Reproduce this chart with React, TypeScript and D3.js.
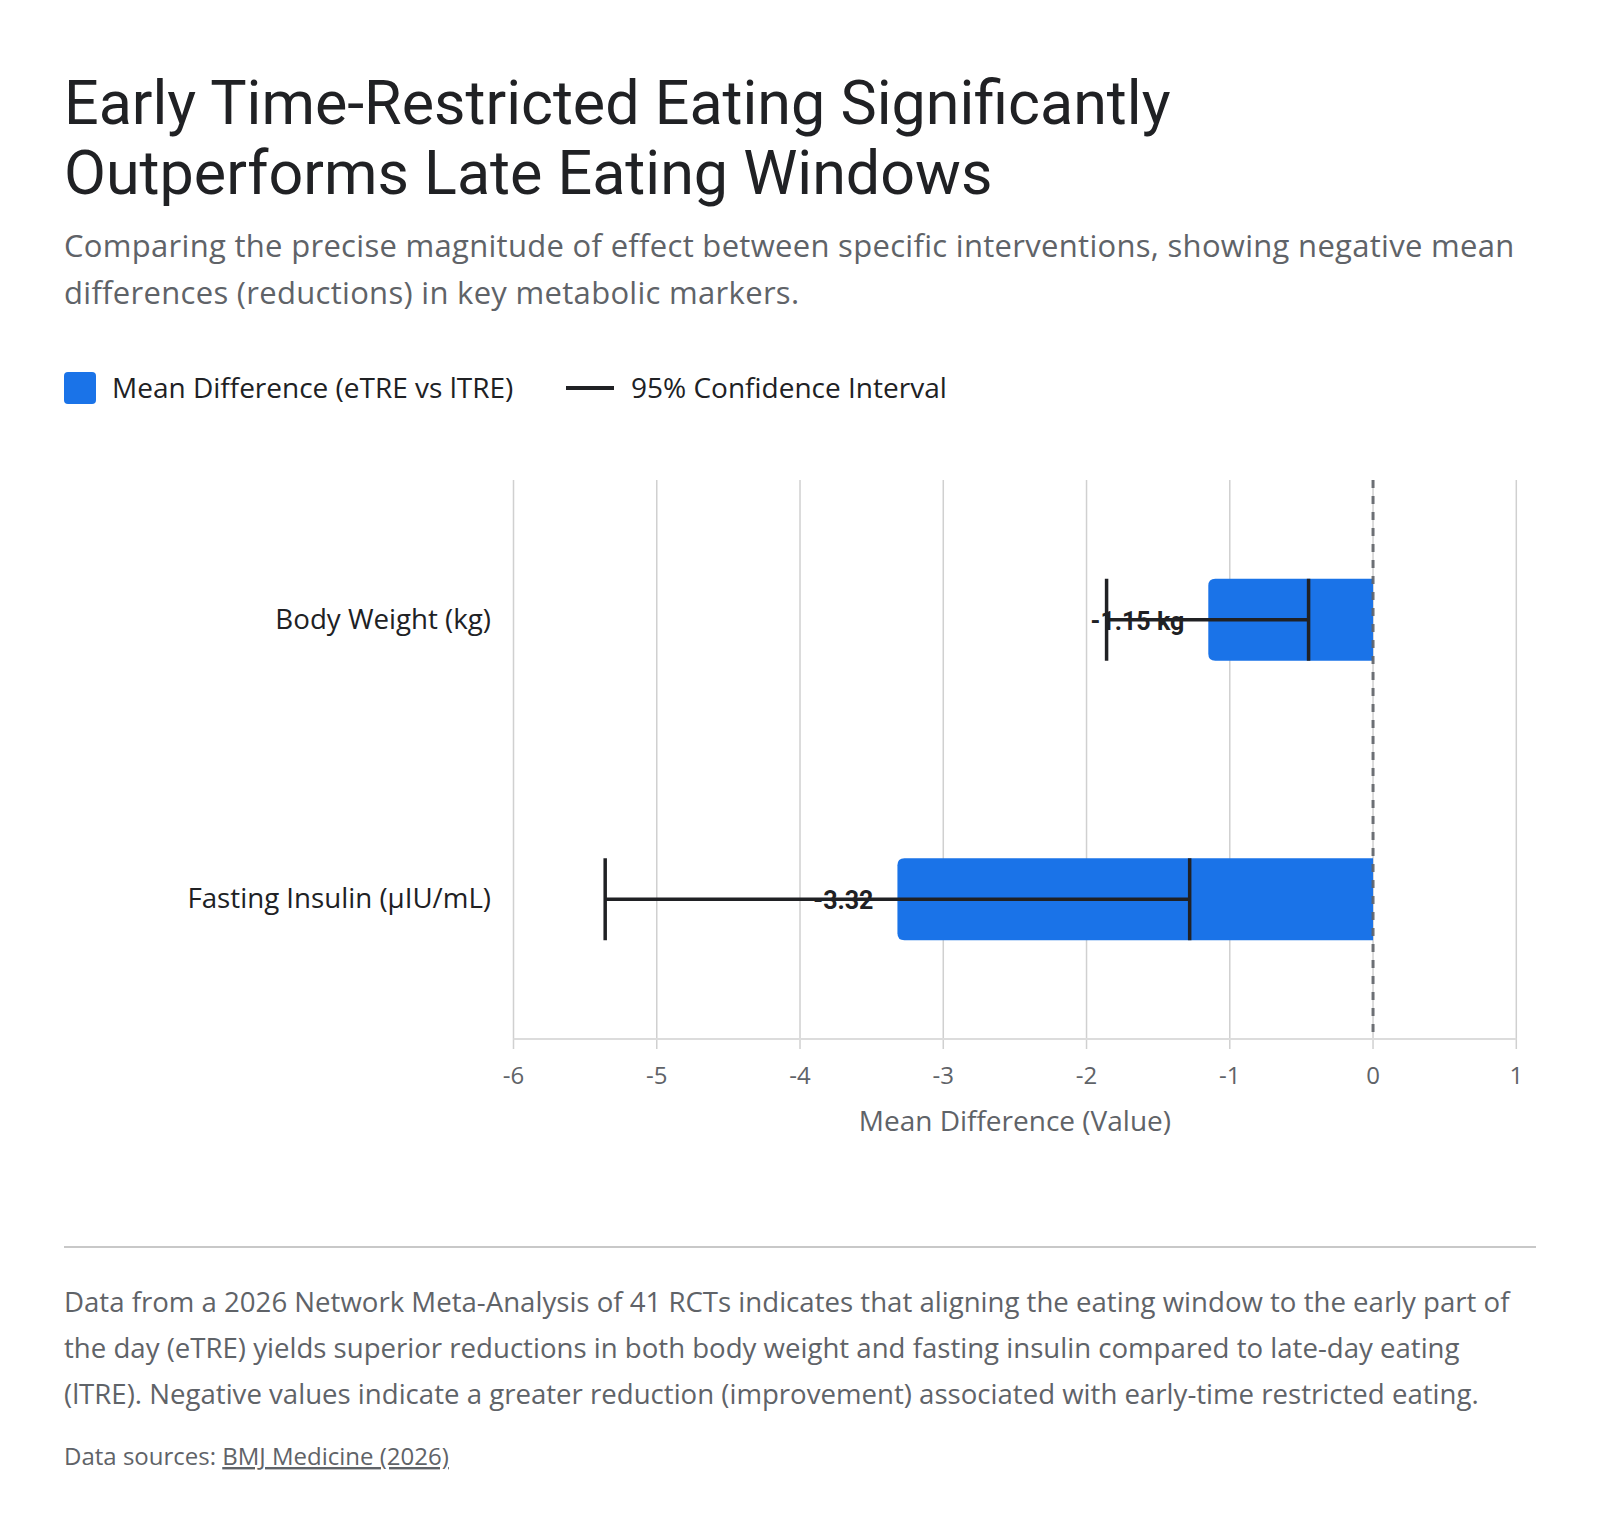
import React, { useEffect, useRef } from "react";
import * as d3 from "d3";

// chart data
const categories = ["Body Weight (kg)", "Fasting Insulin (µIU/mL)"];
const meanDiff = [-1.15, -3.32];
const ciLower = [-1.86, -5.36];
const ciUpper = [-0.45, -1.28];
const valueLabels = ["-1.15 kg", "-3.32"];
const xTicks = [-6, -5, -4, -3, -2, -1, 0, 1];

const titleLines = [
  "Early Time-Restricted Eating Significantly",
  "Outperforms Late Eating Windows",
];
const subtitleLines = [
  "Comparing the precise magnitude of effect between specific interventions, showing negative mean",
  "differences (reductions) in key metabolic markers.",
];
const footerLines = [
  "Data from a 2026 Network Meta-Analysis of 41 RCTs indicates that aligning the eating window to the early part of",
  "the day (eTRE) yields superior reductions in both body weight and fasting insulin compared to late-day eating",
  "(lTRE). Negative values indicate a greater reduction (improvement) associated with early-time restricted eating.",
];

const FONT = "Roboto, sans-serif";
const BODY = "'Open Sans', Roboto, sans-serif";
const BLUE = "#1a73e8";
const DARK = "#202124";
const GREY = "#5f6368";

const App = () => {
  const ref = useRef<SVGSVGElement>(null);

  useEffect(() => {
    const svg = d3.select(ref.current);
    svg.selectAll("*").remove();

    svg.append("rect").attr("width", 1600).attr("height", 1538).attr("fill", "#fff");

    // title + subtitle
    svg.append("g")
      .selectAll("text")
      .data(titleLines)
      .enter()
      .append("text")
      .attr("x", 64)
      .attr("y", (d, i) => 124 + i * 70)
      .attr("font-family", FONT)
      .attr("font-size", 61)
      .attr("fill", DARK)
      .text((d) => d);

    svg.append("g")
      .selectAll("text")
      .data(subtitleLines)
      .enter()
      .append("text")
      .attr("x", 64)
      .attr("y", (d, i) => 257 + i * 47)
      .attr("font-family", BODY)
      .attr("font-size", 31)
      .attr("letter-spacing", 0.3)
      .attr("fill", GREY)
      .text((d) => d);

    // legend
    const legend = svg.append("g").attr("font-family", BODY).attr("font-size", 28).attr("fill", DARK);
    legend.append("rect").attr("x", 64).attr("y", 372).attr("width", 32).attr("height", 32).attr("rx", 4).attr("fill", BLUE);
    legend.append("text").attr("x", 112).attr("y", 398).text("Mean Difference (eTRE vs lTRE)");
    legend.append("line").attr("x1", 566).attr("x2", 614).attr("y1", 388).attr("y2", 388).attr("stroke", DARK).attr("stroke-width", 4);
    legend.append("text").attr("x", 631).attr("y", 398).text("95% Confidence Interval");

    // plot
    const left = 513.5, right = 1516.3, top = 480, bottom = 1039;
    const x = d3.scaleLinear().domain([-6, 1]).range([left, right]);
    const y = d3.scalePoint().domain(categories).range([top, bottom]).padding(0.5);
    const barH = 82;

    const g = svg.append("g");

    // grid lines
    g.selectAll(".grid")
      .data(xTicks)
      .enter()
      .append("line")
      .attr("x1", (d) => x(d))
      .attr("x2", (d) => x(d))
      .attr("y1", top)
      .attr("y2", bottom + 10)
      .attr("stroke", "#d0d0d0")
      .attr("stroke-width", 1.5);

    // axis line
    g.append("line")
      .attr("x1", left).attr("x2", right)
      .attr("y1", bottom).attr("y2", bottom)
      .attr("stroke", "#dcdcdc").attr("stroke-width", 2);

    // tick labels
    g.selectAll(".tick")
      .data(xTicks)
      .enter()
      .append("text")
      .attr("x", (d) => x(d))
      .attr("y", 1084)
      .attr("text-anchor", "middle")
      .attr("font-family", BODY)
      .attr("font-size", 24)
      .attr("fill", GREY)
      .text((d) => String(d));

    g.append("text")
      .attr("x", (left + right) / 2)
      .attr("y", 1131)
      .attr("text-anchor", "middle")
      .attr("font-family", BODY)
      .attr("font-size", 28)
      .attr("fill", GREY)
      .text("Mean Difference (Value)");

    // category labels
    g.selectAll(".cat")
      .data(categories)
      .enter()
      .append("text")
      .attr("x", 491)
      .attr("y", (d) => y(d)! + 9)
      .attr("text-anchor", "end")
      .attr("font-family", BODY)
      .attr("font-size", 27.7)
      .attr("fill", DARK)
      .text((d) => d);

    // bars: rounded on the left end only
    const r = 7;
    g.selectAll(".bar")
      .data(categories)
      .enter()
      .append("path")
      .attr("fill", BLUE)
      .attr("d", (d, i) => {
        const x0 = x(meanDiff[i]);
        const x1 = x(0);
        const y0 = y(d)! - barH / 2;
        const y1 = y0 + barH;
        return `M${x1},${y0} L${x0 + r},${y0} Q${x0},${y0} ${x0},${y0 + r} L${x0},${y1 - r} Q${x0},${y1} ${x0 + r},${y1} L${x1},${y1} Z`;
      });

    // zero reference line
    g.append("line")
      .attr("x1", x(0)).attr("x2", x(0))
      .attr("y1", top).attr("y2", bottom - 6)
      .attr("stroke", GREY)
      .attr("stroke-opacity", 0.9)
      .attr("stroke-width", 3)
      .attr("stroke-dasharray", "8,8");

    // value labels
    g.selectAll(".val")
      .data(categories)
      .enter()
      .append("text")
      .attr("x", (d, i) => x(meanDiff[i]) - 24)
      .attr("y", (d) => y(d)! + 10)
      .attr("text-anchor", "end")
      .attr("font-family", FONT)
      .attr("font-size", 25)
      .attr("font-weight", "bold")
      .attr("fill", DARK)
      .text((d, i) => valueLabels[i]);

    // confidence intervals
    const ci = g.selectAll(".ci").data(categories).enter().append("g").attr("stroke", DARK).attr("stroke-width", 3.5);
    ci.append("line")
      .attr("x1", (d, i) => x(ciLower[i]))
      .attr("x2", (d, i) => x(ciUpper[i]))
      .attr("y1", (d) => y(d)!)
      .attr("y2", (d) => y(d)!);
    ci.append("line")
      .attr("x1", (d, i) => x(ciLower[i]))
      .attr("x2", (d, i) => x(ciLower[i]))
      .attr("y1", (d) => y(d)! - barH / 2)
      .attr("y2", (d) => y(d)! + barH / 2);
    ci.append("line")
      .attr("x1", (d, i) => x(ciUpper[i]))
      .attr("x2", (d, i) => x(ciUpper[i]))
      .attr("y1", (d) => y(d)! - barH / 2)
      .attr("y2", (d) => y(d)! + barH / 2);

    // separator + footer
    svg.append("line")
      .attr("x1", 64).attr("x2", 1536)
      .attr("y1", 1247).attr("y2", 1247)
      .attr("stroke", "#c8c8c8").attr("stroke-width", 2);

    svg.append("g")
      .selectAll("text")
      .data(footerLines)
      .enter()
      .append("text")
      .attr("x", 64)
      .attr("y", (d, i) => 1312 + i * 46)
      .attr("font-family", BODY)
      .attr("font-size", 27.6)
      .attr("fill", GREY)
      .text((d) => d);

    const src = svg.append("text")
      .attr("x", 64)
      .attr("y", 1465)
      .attr("font-family", BODY)
      .attr("font-size", 24)
      .attr("fill", GREY);
    src.append("tspan").text("Data sources: ");
    src.append("tspan").attr("text-decoration", "underline").text("BMJ Medicine (2026)");
  }, []);

  return (
    <svg
      ref={ref}
      width={1600}
      height={1538}
      style={{ position: "absolute", left: 0, top: 0, display: "block" }}
    />
  );
};

export default App;
